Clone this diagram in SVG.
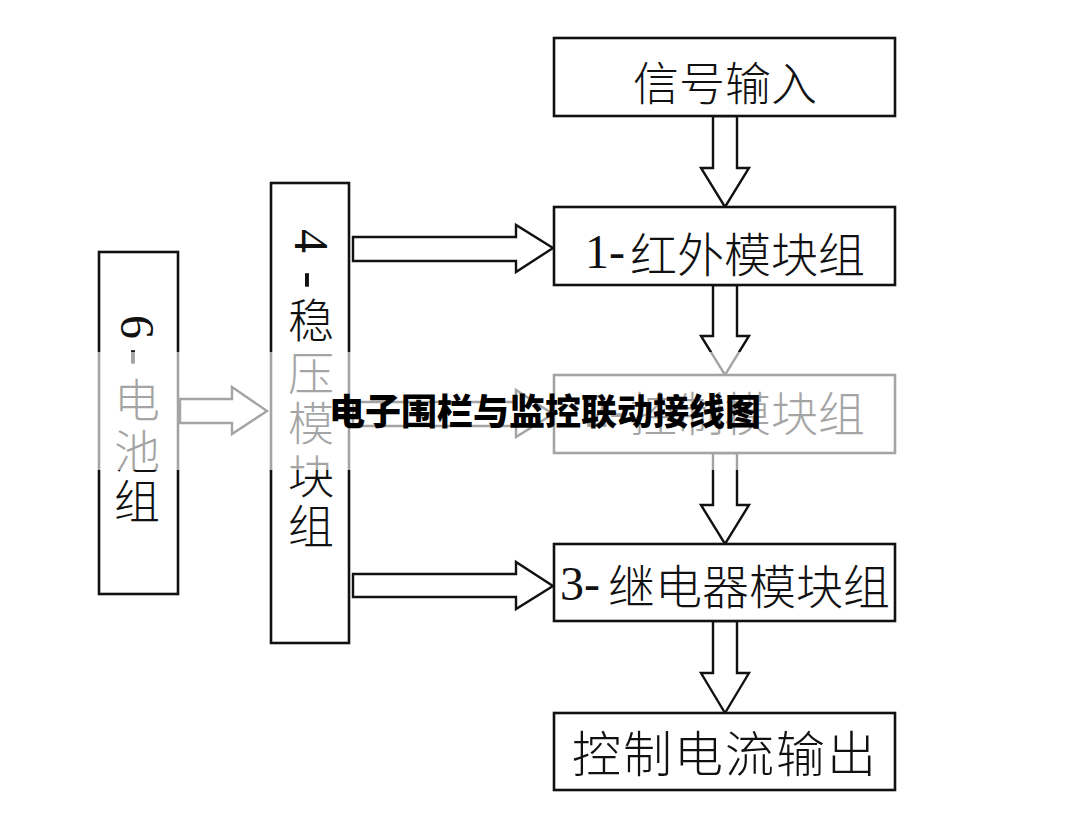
<svg xmlns="http://www.w3.org/2000/svg" width="1080" height="821" viewBox="0 0 1080 821">
<style>
.box{fill:#fff;stroke:#111;stroke-width:2.6}
.arr{fill:#fff;stroke:#111;stroke-width:2.4;stroke-linejoin:miter}
.cjk{font-family:"Noto Sans CJK SC","Noto Sans CJK JP",sans-serif;font-weight:300;fill:#111}
.lat{font-family:"Liberation Serif",serif;fill:#111}
.title{font-family:"Noto Sans CJK SC",sans-serif;font-weight:900;font-size:36px;fill:#000}
</style>
<rect width="1080" height="821" fill="#fff"/>
<g id="connectors">
<polygon class="arr" points="713,116 737,116 737,168 749,168 725,207 701,168 713,168"/>
<polygon class="arr" points="713,285 737,285 737,336 749,336 725,375 701,336 713,336"/>
<polygon class="arr" points="713,453 737,453 737,505 749,505 725,544 701,505 713,505"/>
<polygon class="arr" points="713,621 737,621 737,673 749,673 725,713 701,673 713,673"/>
<polygon class="arr" points="353,237 516,237 516,225 553,248 516,272 516,261 353,261"/>
<polygon class="arr" points="353,402 516,402 516,390 553,414 516,437 516,426 353,426"/>
<polygon class="arr" points="353,574 516,574 516,562 553,586 516,609 516,597 353,597"/>
<polygon class="arr" points="180,399 232,399 232,387 267,411 232,434 232,423 180,423"/>
</g>
<g id="n-signal-in">
<rect class="box" x="554" y="38" width="341" height="78"/>
<text class="cjk" x="725" y="80" font-size="46" text-anchor="middle" dominant-baseline="central">信号输入</text>
</g>
<g id="n-infrared">
<rect class="box" x="554" y="207" width="341" height="78"/>
<text y="251" dominant-baseline="central"><tspan class="lat" x="585" font-size="48">1-</tspan><tspan class="cjk" x="630" font-size="47">红外模块组</tspan></text>
</g>
<g id="n-control">
<rect class="box" x="554" y="375" width="341" height="78"/>
<text y="410" dominant-baseline="central"><tspan class="lat" x="585" font-size="48">2-</tspan><tspan class="cjk" x="630" font-size="47">控制模块组</tspan></text>
</g>
<g id="n-relay">
<rect class="box" x="554" y="544" width="341" height="77"/>
<text y="583" dominant-baseline="central"><tspan class="lat" x="560" font-size="48">3-</tspan><tspan class="cjk" x="608" font-size="47">继电器模块组</tspan></text>
</g>
<g id="n-output">
<rect class="box" x="554" y="713" width="341" height="77"/>
<text class="cjk" x="725" y="750" font-size="49" text-anchor="middle" dominant-baseline="central" letter-spacing="2">控制电流输出</text>
</g>
<g id="n-battery">
<rect class="box" x="99" y="252" width="79" height="342"/>
<text class="lat" font-size="48" text-anchor="middle" dominant-baseline="central" transform="translate(137,327) rotate(90)">6</text>
<text class="lat" font-size="52" text-anchor="middle" dominant-baseline="central" transform="translate(137,357) rotate(90)">-</text>
<text class="cjk" x="137" y="397" font-size="46" text-anchor="middle" dominant-baseline="central">电</text>
<text class="cjk" x="137" y="448" font-size="46" text-anchor="middle" dominant-baseline="central">池</text>
<text class="cjk" x="137" y="498" font-size="46" text-anchor="middle" dominant-baseline="central">组</text>
</g>
<g id="n-regulator">
<rect class="box" x="271" y="183" width="78" height="460"/>
<text class="lat" font-size="48" text-anchor="middle" dominant-baseline="central" transform="translate(311,241) rotate(90)">4</text>
<text class="lat" font-size="52" text-anchor="middle" dominant-baseline="central" transform="translate(311,280) rotate(90)">-</text>
<text class="cjk" x="311" y="317" font-size="46" text-anchor="middle" dominant-baseline="central">稳</text>
<text class="cjk" x="311" y="370" font-size="46" text-anchor="middle" dominant-baseline="central">压</text>
<text class="cjk" x="311" y="420" font-size="46" text-anchor="middle" dominant-baseline="central">模</text>
<text class="cjk" x="311" y="473" font-size="46" text-anchor="middle" dominant-baseline="central">块</text>
<text class="cjk" x="311" y="523" font-size="46" text-anchor="middle" dominant-baseline="central">组</text>
</g>
<rect id="band" x="0" y="352" width="1080" height="118" fill="#fff" fill-opacity="0.62"/>
<text id="title" class="title" x="545" y="409" text-anchor="middle" dominant-baseline="central">电子围栏与监控联动接线图</text>
</svg>
